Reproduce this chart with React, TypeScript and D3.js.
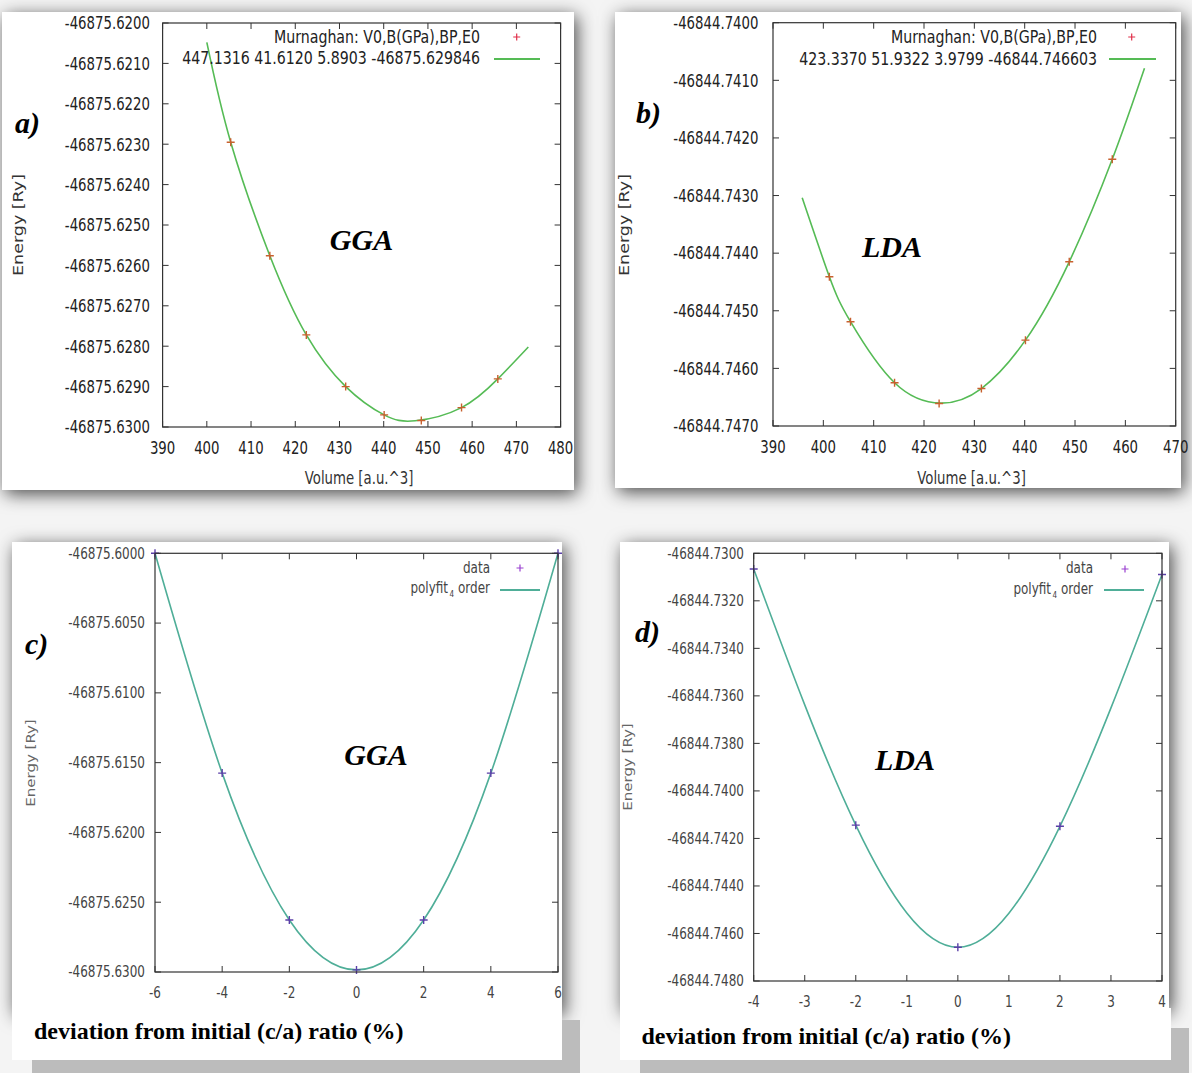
import React from 'react';
import * as d3 from 'd3';

// ---------- Panel a (GGA, Murnaghan fit) ----------
const volumeA = [405.4, 414.25, 422.5, 431.4, 440.1, 448.5, 457.6, 465.8];
const energyA = [-46875.62295, -46875.62576, -46875.62772, -46875.6290, -46875.6297, -46875.62984, -46875.62952, -46875.62881];
const fitVolumeA = [400.0, 405.4, 414.25, 422.5, 431.4, 440.1, 447.13, 457.6, 465.8, 472.7];
const fitEnergyA = [-46875.62048, -46875.62295, -46875.62576, -46875.62772, -46875.6290, -46875.6297, -46875.629846, -46875.62952, -46875.62881, -46875.62802];
const xTicksA = [390, 400, 410, 420, 430, 440, 450, 460, 470, 480];
const yTicksA = [-46875.62, -46875.621, -46875.622, -46875.623, -46875.624, -46875.625, -46875.626, -46875.627, -46875.628, -46875.629, -46875.63];
const legendA = ['Murnaghan: V0,B(GPa),BP,E0', '447.1316 41.6120 5.8903 -46875.629846'];

// ---------- Panel b (LDA, Murnaghan fit) ----------
const volumeB = [401.2, 405.4, 414.15, 423.0, 431.4, 440.15, 448.85, 457.4];
const energyB = [-46844.74441, -46844.74519, -46844.74625, -46844.74661, -46844.74635, -46844.74551, -46844.74415, -46844.74237];
const fitVolumeB = [395.8, 401.2, 405.4, 414.15, 423.34, 431.4, 440.15, 448.85, 457.4, 463.8];
const fitEnergyB = [-46844.74304, -46844.74441, -46844.74519, -46844.74625, -46844.746603, -46844.74635, -46844.74551, -46844.74415, -46844.74237, -46844.74079];
const xTicksB = [390, 400, 410, 420, 430, 440, 450, 460, 470];
const yTicksB = [-46844.74, -46844.741, -46844.742, -46844.743, -46844.744, -46844.745, -46844.746, -46844.747];
const legendB = ['Murnaghan: V0,B(GPa),BP,E0', '423.3370 51.9322 3.9799 -46844.746603'];

// ---------- Panel c (GGA, c/a) ----------
const devC = [-6, -4, -2, 0, 2, 4, 6];
const energyC = [-46875.6000, -46875.61575, -46875.62627, -46875.62985, -46875.62627, -46875.61575, -46875.6000];
const xTicksC = [-6, -4, -2, 0, 2, 4, 6];
const yTicksC = [-46875.6, -46875.605, -46875.61, -46875.615, -46875.62, -46875.625, -46875.63];

// ---------- Panel d (LDA, c/a) ----------
const devD = [-4, -2, 0, 2, 4];
const energyD = [-46844.73066, -46844.74144, -46844.74658, -46844.74149, -46844.73089];
const xTicksD = [-4, -3, -2, -1, 0, 1, 2, 3, 4];
const yTicksD = [-46844.73, -46844.732, -46844.734, -46844.736, -46844.738, -46844.74, -46844.742, -46844.744, -46844.746, -46844.748];

const SANS = 'DejaVu Sans, Verdana, sans-serif';
const SERIF = 'Liberation Serif, Times New Roman, serif';

function SText({ x, y, sx = 1, size, anchor = 'start', fill = '#222', family = SANS, weight = 'normal', italic = false, rotate = 0, children }: any) {
  return (
    <g transform={`translate(${x},${y}) scale(${sx},1)${rotate ? ` rotate(${rotate})` : ''}`}>
      <text x={0} y={0} fontSize={size} textAnchor={anchor} fill={fill} fontFamily={family}
        fontWeight={weight} fontStyle={italic ? 'italic' : 'normal'}
        dominantBaseline={rotate ? 'central' : undefined}>{children}</text>
    </g>
  );
}

const plus = (cx: number, cy: number, s: number) => `M${cx - s},${cy}H${cx + s}M${cx},${cy - s}V${cy + s}`;

function Panel(p: any) {
  const x = d3.scaleLinear().domain(p.xDomain).range([p.plot.l, p.plot.r]);
  const y = d3.scaleLinear().domain(p.yDomain).range([p.plot.b, p.plot.t]);
  const line = d3.line<number[]>().x(d => x(d[0])).y(d => y(d[1])).curve(d3.curveNatural);
  const fit = p.fitX.map((v: number, i: number) => [v, p.fitY[i]]);
  const { l, r, t, b } = p.plot;
  const tl = 6;
  return (
    <g>
      {p.xTicks.map((v: number) => (
        <g key={'x' + v}>
          <line x1={x(v)} x2={x(v)} y1={b} y2={b - tl} stroke="#333" />
          <line x1={x(v)} x2={x(v)} y1={t} y2={t + tl} stroke="#333" />
          <SText x={x(v)} y={p.xLabelY} sx={p.sx} size={p.fs} anchor="middle" fill={p.textColor}>{p.xFmt(v)}</SText>
        </g>
      ))}
      {p.yTicks.map((v: number) => (
        <g key={'y' + v}>
          <line x1={l} x2={l + tl} y1={y(v)} y2={y(v)} stroke="#333" />
          <line x1={r} x2={r - tl} y1={y(v)} y2={y(v)} stroke="#333" />
          <SText x={l - p.yLabelGap} y={y(v) + p.fs * 0.36} sx={p.sx} size={p.fs} anchor="end" fill={p.textColor}>{v.toFixed(4)}</SText>
        </g>
      ))}
      <path d={line(fit) || ''} fill="none" stroke={p.curveColor} strokeWidth={1.6} />
      {p.dataX.map((v: number, i: number) => (
        <path key={'d' + i} d={plus(x(v), y(p.dataY[i]), 4)} stroke={p.markColor} strokeWidth={1.4} />
      ))}
      <rect x={l} y={t} width={r - l} height={b - t} fill="none" stroke="#333" strokeWidth={1.2} />
      <SText x={p.leg.tx} y={p.leg.y1} sx={p.legSx} size={p.legFs} anchor="end" fill={p.textColor}>{p.leg.t1}</SText>
      <SText x={p.leg.tx} y={p.leg.y2} sx={p.legSx} size={p.legFs} anchor="end" fill={p.textColor}>{p.leg.t2}</SText>
      <path d={plus(p.leg.px, p.leg.py, 3.5)} stroke={p.legMark} strokeWidth={1.2} />
      <line x1={p.leg.lx1} x2={p.leg.lx2} y1={p.leg.ly} y2={p.leg.ly} stroke={p.curveColor} strokeWidth={1.8} />
      <SText x={p.yTitle.x} y={p.yTitle.y} sx={p.sx} size={p.titleFs} anchor="middle" rotate={-90} fill={p.titleColor}>Energy [Ry]</SText>
      {p.xTitle && <SText x={p.xTitle.x} y={p.xTitle.y} sx={p.sx} size={p.titleFs} anchor="middle" fill={p.titleColor}>{p.xTitle.text}</SText>}
      <SText x={p.tag.x} y={p.tag.y} size={30} family={SERIF} weight="bold" italic fill="#000">{p.tag.text}</SText>
      <SText x={p.method.x} y={p.method.y} size={30} family={SERIF} weight="bold" italic anchor="middle" fill="#000">{p.method.text}</SText>
    </g>
  );
}

const polyLegend = (
  <>polyfit<tspan fontSize={9} dx={2} dy={4}>4</tspan><tspan dy={-4}> order</tspan></>
);

export default function App() {
  const cards = [
    { x: 2, y: 12, w: 572, h: 478 },
    { x: 615, y: 12, w: 566, h: 476 },
    { x: 12, y: 542, w: 550, h: 470 },
    { x: 620, y: 542, w: 549, h: 468 },
  ];
  return (
    <svg width={1192} height={1073} style={{ position: 'absolute', left: 0, top: 0, background: '#fff' }}>
      <defs>
        <filter id="sh" x="-10%" y="-10%" width="125%" height="125%">
          <feDropShadow dx="3" dy="4" stdDeviation="9" floodColor="#000" floodOpacity="0.7" />
        </filter>
      </defs>
      <rect x={0} y={0} width={1192} height={1073} fill="#f4f4f4" />
      {cards.map((c, i) => (
        <rect key={i} x={c.x} y={c.y} width={c.w} height={c.h} fill="#fff" filter="url(#sh)" />
      ))}
      <rect x={32} y={1020} width={548} height={60} fill="#bcbcbc" />
      <rect x={12} y={1002} width={550} height={58} fill="#fff" />
      <rect x={640} y={1028} width={549} height={50} fill="#bcbcbc" />
      <rect x={620} y={1008} width={551} height={52} fill="#fff" />

      <Panel
        plot={{ l: 162.6, r: 560.6, t: 23, b: 427 }}
        xDomain={[390, 480]} yDomain={[-46875.63, -46875.62]}
        xTicks={xTicksA} yTicks={yTicksA} xFmt={(v: number) => String(v)}
        dataX={volumeA} dataY={energyA} fitX={fitVolumeA} fitY={fitEnergyA}
        fs={17.5} sx={0.76} legFs={17.5} legSx={0.81} titleFs={17.5}
        xLabelY={454} yLabelGap={12.6}
        textColor="#222" titleColor="#333"
        curveColor="#55bb55" markColor="#c8602e" legMark="#e0304a"
        leg={{ t1: legendA[0], t2: legendA[1], tx: 480, y1: 43, y2: 64, px: 516.7, py: 37, lx1: 494, lx2: 540, ly: 59 }}
        yTitle={{ x: 19, y: 225 }} xTitle={{ x: 359, y: 484, text: 'Volume [a.u.^3]' }}
        tag={{ x: 15, y: 133, text: 'a)' }} method={{ x: 361.5, y: 250, text: 'GGA' }}
      />
      <Panel
        plot={{ l: 773, r: 1175.7, t: 22.7, b: 426 }}
        xDomain={[390, 470]} yDomain={[-46844.747, -46844.74]}
        xTicks={xTicksB} yTicks={yTicksB} xFmt={(v: number) => String(v)}
        dataX={volumeB} dataY={energyB} fitX={fitVolumeB} fitY={fitEnergyB}
        fs={17.5} sx={0.76} legFs={17.5} legSx={0.81} titleFs={17.5}
        xLabelY={453} yLabelGap={14.5}
        textColor="#222" titleColor="#333"
        curveColor="#55bb55" markColor="#c8602e" legMark="#e0304a"
        leg={{ t1: legendB[0], t2: legendB[1], tx: 1097, y1: 43, y2: 65, px: 1131.7, py: 37, lx1: 1109, lx2: 1156, ly: 59 }}
        yTitle={{ x: 625, y: 225 }} xTitle={{ x: 971.5, y: 484, text: 'Volume [a.u.^3]' }}
        tag={{ x: 636, y: 123, text: 'b)' }} method={{ x: 892, y: 257, text: 'LDA' }}
      />
      <Panel
        plot={{ l: 155, r: 558, t: 553.3, b: 972 }}
        xDomain={[-6, 6]} yDomain={[-46875.63, -46875.6]}
        xTicks={xTicksC} yTicks={yTicksC} xFmt={(v: number) => String(v)}
        dataX={devC} dataY={energyC} fitX={devC} fitY={energyC}
        fs={15} sx={0.8} legFs={15} legSx={0.8} titleFs={15}
        xLabelY={998} yLabelGap={10}
        textColor="#444" titleColor="#666"
        curveColor="#4fae98" markColor="#5b3fa8" legMark="#9a40d0"
        leg={{ t1: 'data', t2: polyLegend, tx: 490, y1: 573, y2: 593, px: 520, py: 568, lx1: 500, lx2: 540, ly: 590 }}
        yTitle={{ x: 31, y: 763 }}
        tag={{ x: 25, y: 654, text: 'c)' }} method={{ x: 376, y: 765, text: 'GGA' }}
      />
      <Panel
        plot={{ l: 753.7, r: 1162, t: 553.3, b: 981 }}
        xDomain={[-4, 4]} yDomain={[-46844.748, -46844.73]}
        xTicks={xTicksD} yTicks={yTicksD} xFmt={(v: number) => String(v)}
        dataX={devD} dataY={energyD} fitX={devD} fitY={energyD}
        fs={15} sx={0.8} legFs={15} legSx={0.8} titleFs={15}
        xLabelY={1007} yLabelGap={9.7}
        textColor="#444" titleColor="#666"
        curveColor="#4fae98" markColor="#5b3fa8" legMark="#9a40d0"
        leg={{ t1: 'data', t2: polyLegend, tx: 1093, y1: 573, y2: 594, px: 1125, py: 569, lx1: 1104, lx2: 1144, ly: 590 }}
        yTitle={{ x: 628, y: 767 }}
        tag={{ x: 635, y: 642, text: 'd)' }} method={{ x: 905, y: 770, text: 'LDA' }}
      />
      <SText x={34} y={1039} size={24} family={SERIF} weight="bold" fill="#000">deviation from initial (c/a) ratio (%)</SText>
      <SText x={641.5} y={1044} size={24} family={SERIF} weight="bold" fill="#000">deviation from initial (c/a) ratio (%)</SText>
    </svg>
  );
}
